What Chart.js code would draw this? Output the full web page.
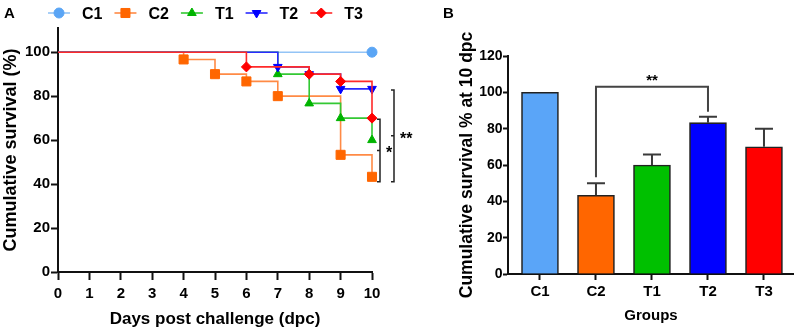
<!DOCTYPE html>
<html><head><meta charset="utf-8">
<script src="https://cdn.jsdelivr.net/npm/chart.js@4.4.1/dist/chart.umd.min.js"></script>
<style>
html,body{margin:0;padding:0;background:#fff;}
#wrap{position:relative;width:794px;height:332px;overflow:hidden;background:#fff;font-family:'Liberation Sans',Arial,sans-serif;}
.pl{position:absolute;font-weight:bold;font-size:15px;line-height:15px;color:#000;}
canvas{position:absolute;top:0;}
</style></head><body>
<div id="wrap">
<canvas id="ca" width="430" height="332" style="left:0"></canvas>
<canvas id="cb" width="364" height="332" style="left:430px"></canvas>
<div class="pl" style="left:4px;top:5px">A</div>
<div class="pl" style="left:443px;top:5px">B</div>
</div>
<script>
// ---------- Panel A data (Kaplan-Meier) ----------
const seriesNames = ['C1', 'C2', 'T1', 'T2', 'T3'];
const c1Days = [0, 10];                 const c1Surv = [100, 100];
const c2Days = [0, 4, 5, 6, 7, 9, 10];  const c2Surv = [100, 96.7, 90, 86.7, 80, 53.3, 43.3];
const t1Days = [0, 7, 8, 9, 10];        const t1Surv = [100, 90, 76.7, 70, 60];
const t2Days = [0, 7, 8, 9, 10];        const t2Surv = [100, 93.3, 90, 83.3, 83.3];
const t3Days = [0, 6, 8, 9, 10];        const t3Surv = [100, 93.3, 90, 86.7, 70];
const dayTicks = [0, 1, 2, 3, 4, 5, 6, 7, 8, 9, 10];
const survTicks = [0, 20, 40, 60, 80, 100];
const sigA = [['T3', 'C2', '*'], ['T2', 'C2', '**']];

// ---------- Panel B data (bars) ----------
const groups = ['C1', 'C2', 'T1', 'T2', 'T3'];
const meanSurv = [100, 43.3, 60, 83.3, 70];
const sdSurv = [0, 6.7, 5.8, 3.3, 10];
const barTicks = [0, 20, 40, 60, 80, 100, 120];
const sigB = [['C2', 'T2', '**']];

const FONT = "'Liberation Sans', Arial, sans-serif";
const TXT = '#000';
const styles = {
  C1: {color: '#5aa5f5', line: '#93c4f6', ps: 'circle', r: 5, rot: 0},
  C2: {color: '#ff6600', line: '#ff8a45', ps: 'rect', r: 6.4, rot: 0},
  T1: {color: '#00b400', line: '#33c833', ps: 'triangle', r: 5, rot: 0},
  T2: {color: '#0000ff', line: '#2a2aff', ps: 'triangle', r: 5, rot: 180},
  T3: {color: '#ff0000', line: '#ff2a2a', ps: 'rectRot', r: 5, rot: 0}
};
const barColors = ['#5aa5f8', '#ff6600', '#00c000', '#0000ff', '#ff0000'];

function mark(ctx, st, x, y) {
  if (Chart.helpers && Chart.helpers.drawPoint) {
    Chart.helpers.drawPoint(ctx, {pointStyle: st.ps, rotation: st.rot, radius: st.r, borderWidth: 1}, x, y);
  } else {
    ctx.beginPath(); ctx.arc(x, y, st.r, 0, Math.PI * 2); ctx.fill(); ctx.stroke();
  }
}

const daysList = [c1Days, c2Days, t1Days, t2Days, t3Days];
const survList = [c1Surv, c2Surv, t1Surv, t2Surv, t3Surv];

const kmDatasets = seriesNames.map((n, i) => {
  const st = styles[n];
  return {
    label: n,
    data: daysList[i].map((d, j) => ({x: d, y: survList[i][j]})),
    stepped: 'before',
    borderColor: st.line,
    borderWidth: 1.6,
    backgroundColor: st.color,
    pointStyle: st.ps,
    pointRotation: st.rot,
    pointRadius: daysList[i].map(d => d === 0 ? 0 : st.r),
    pointHoverRadius: daysList[i].map(d => d === 0 ? 0 : st.r),
    pointBackgroundColor: st.color,
    pointBorderColor: st.color,
    pointBorderWidth: 1,
    fill: false,
    clip: false,
    order: seriesNames.length - 1 - i
  };
});

const legendPluginA = {
  id: 'kmLegend',
  afterDraw(chart) {
    const ctx = chart.ctx;
    ctx.save();
    ctx.font = 'bold 16px ' + FONT;
    let x = 48; const y = 13;
    chart.data.datasets.forEach(ds => {
      const st = styles[ds.label];
      ctx.strokeStyle = st.line; ctx.lineWidth = 1.6;
      ctx.beginPath(); ctx.moveTo(x, y); ctx.lineTo(x + 22, y); ctx.stroke();
      ctx.fillStyle = st.color; ctx.strokeStyle = st.color; ctx.lineWidth = 1;
      mark(ctx, st, x + 11, y);
      ctx.fillStyle = TXT; ctx.textBaseline = 'alphabetic'; ctx.textAlign = 'left';
      ctx.fillText(ds.label, x + 34, y + 5.6);
      x += 34 + ctx.measureText(ds.label).width + 12;
    });
    ctx.restore();
  }
};

const sigPluginA = {
  id: 'sigA',
  afterDatasetsDraw(chart) {
    const ctx = chart.ctx, xs = chart.scales.x, ys = chart.scales.y;
    const xEnd = xs.getPixelForValue(dayTicks[dayTicks.length - 1]);
    ctx.save();
    ctx.strokeStyle = '#222'; ctx.lineWidth = 1.5; ctx.fillStyle = TXT;
    ctx.font = 'bold 16px ' + FONT; ctx.textAlign = 'left'; ctx.textBaseline = 'alphabetic';
    sigA.forEach((s, k) => {
      const ia = seriesNames.indexOf(s[0]), ib = seriesNames.indexOf(s[1]);
      const va = survList[ia][survList[ia].length - 1];
      const vb = survList[ib][survList[ib].length - 1];
      const bx = xEnd + 8 + 14 * k;
      const top = ys.getPixelForValue(va) + 1, bot = ys.getPixelForValue(vb) + 5;
      const mid = (top + bot) / 2;
      ctx.beginPath();
      ctx.moveTo(bx - 3, top); ctx.lineTo(bx, top); ctx.lineTo(bx, bot); ctx.lineTo(bx - 3, bot);
      ctx.moveTo(bx, mid); ctx.lineTo(bx - 3, mid);
      ctx.stroke();
      ctx.fillText(s[2], bx + 6, mid + 8);
    });
    ctx.restore();
  }
};

const tickFont = {family: FONT, size: 15, weight: 'bold'};
const titleFont = {family: FONT, size: 17, weight: 'bold'};

new Chart(document.getElementById('ca'), {
  type: 'line',
  data: {datasets: kmDatasets},
  options: {
    responsive: false, animation: false, devicePixelRatio: 1,
    layout: {padding: {top: 28, right: 58, left: 0, bottom: 0}},
    plugins: {legend: {display: false}, tooltip: {enabled: false}},
    scales: {
      x: {
        type: 'linear', min: 0, max: 10,
        afterBuildTicks: s => { s.ticks = dayTicks.map(v => ({value: v})); },
        afterFit: s => { s.height = 60; },
        grid: {display: true, drawOnChartArea: false, drawTicks: true, tickLength: 8, tickWidth: 2, tickColor: '#111'},
        border: {display: true, color: '#111', width: 2},
        ticks: {font: tickFont, color: TXT, padding: 4.7, maxRotation: 0, autoSkip: false},
        title: {display: true, text: 'Days post challenge (dpc)', font: titleFont, color: TXT, padding: {top: 0, bottom: 2.3}}
      },
      y: {
        type: 'linear', min: 0, max: 111,
        afterBuildTicks: s => { s.ticks = survTicks.map(v => ({value: v})); },
        afterFit: s => { s.width = 58; },
        grid: {display: true, drawOnChartArea: false, drawTicks: true, tickLength: 7, tickWidth: 2, tickColor: '#111'},
        border: {display: true, color: '#111', width: 2},
        ticks: {font: tickFont, color: TXT, padding: 1, autoSkip: false},
        title: {display: true, text: 'Cumulative survival (%)', font: {family: FONT, size: 18, weight: 'bold'}, color: TXT, padding: {top: 0, bottom: 0}}
      }
    }
  },
  plugins: [legendPluginA, sigPluginA]
});

// ---------- Panel B ----------
const errPluginB = {
  id: 'errB',
  afterDatasetsDraw(chart) {
    const ctx = chart.ctx, xs = chart.scales.x, ys = chart.scales.y;
    ctx.save();
    ctx.strokeStyle = '#3a3a3a'; ctx.lineWidth = 2;
    const tops = [];
    groups.forEach((g, i) => {
      const x = xs.getPixelForValue(i);
      const y0 = ys.getPixelForValue(meanSurv[i]);
      const y1 = ys.getPixelForValue(meanSurv[i] + sdSurv[i]);
      tops.push(y1);
      if (!sdSurv[i]) return;
      ctx.beginPath();
      ctx.moveTo(x, y0); ctx.lineTo(x, y1);
      ctx.moveTo(x - 9, y1); ctx.lineTo(x + 9, y1);
      ctx.stroke();
    });
    ctx.strokeStyle = '#444'; ctx.lineWidth = 2; ctx.fillStyle = TXT;
    ctx.font = 'bold 15px ' + FONT; ctx.textAlign = 'center'; ctx.textBaseline = 'alphabetic';
    sigB.forEach(s => {
      const ia = groups.indexOf(s[0]), ib = groups.indexOf(s[1]);
      const xa = xs.getPixelForValue(ia), xb = xs.getPixelForValue(ib);
      const ya = tops[ia] - 6, yb = tops[ib] - 5;
      const level = Math.min(tops[ia], tops[ib]) - 30;
      ctx.beginPath();
      ctx.moveTo(xa, ya); ctx.lineTo(xa, level); ctx.lineTo(xb, level); ctx.lineTo(xb, yb);
      ctx.stroke();
      ctx.fillText(s[2], (xa + xb) / 2, level - 2);
    });
    ctx.restore();
  }
};

new Chart(document.getElementById('cb'), {
  type: 'bar',
  data: {
    datasets: [{
      data: groups.map((g, i) => ({x: i, y: meanSurv[i]})),
      backgroundColor: barColors,
      borderColor: '#222',
      borderWidth: 1.6,
      barThickness: 37
    }]
  },
  options: {
    responsive: false, animation: false, devicePixelRatio: 1,
    layout: {padding: {top: 56, right: 0, left: 0, bottom: 0}},
    plugins: {legend: {display: false}, tooltip: {enabled: false}},
    scales: {
      x: {
        type: 'linear', min: -0.571, max: 4.536, offset: false,
        afterBuildTicks: s => { s.ticks = groups.map((g, i) => ({value: i})); },
        afterFit: s => { s.height = 58; },
        grid: {display: true, offset: false, drawOnChartArea: false, drawTicks: true, tickLength: 6, tickWidth: 2, tickColor: '#111'},
        border: {display: true, color: '#111', width: 2},
        ticks: {font: tickFont, color: TXT, padding: 2.7, maxRotation: 0, autoSkip: false,
                callback: v => groups[v] !== undefined ? groups[v] : ''},
        title: {display: true, text: 'Groups', font: {family: FONT, size: 15, weight: 'bold'}, color: TXT, padding: {top: 0, bottom: 7}}
      },
      y: {
        type: 'linear', min: 0, max: 120,
        afterBuildTicks: s => { s.ticks = barTicks.map(v => ({value: v})); },
        afterFit: s => { s.width = 78; },
        grid: {display: true, drawOnChartArea: false, drawTicks: true, tickLength: 5, tickWidth: 2, tickColor: '#111'},
        border: {display: true, color: '#111', width: 2},
        ticks: {font: {family: FONT, size: 14, weight: 'bold'}, color: TXT, padding: 0.5, autoSkip: false},
        title: {display: true, text: 'Cumulative survival % at 10 dpc', font: {family: FONT, size: 17.5, weight: 'bold'}, color: TXT, padding: {top: 27, bottom: 0}}
      }
    }
  },
  plugins: [errPluginB]
});
</script>
</body></html>
